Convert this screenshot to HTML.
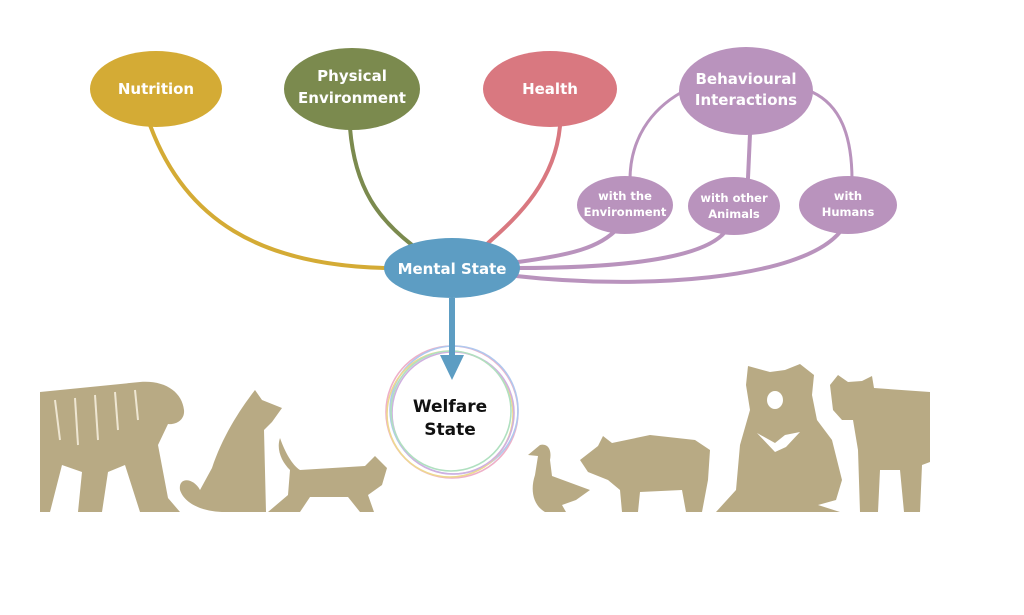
<!DOCTYPE html>
<html><head><meta charset="utf-8"><style>
html,body{margin:0;padding:0;background:#fff;}
svg{display:block;}
text{font-family:"DejaVu Sans","Liberation Sans",sans-serif;}
</style></head><body>
<svg width="1024" height="615" viewBox="0 0 1024 615">
<g fill="none" stroke-linecap="round">
<path d="M150 125 C185 220 260 265 385 268" stroke="#d4ab35" stroke-width="4"/>
<path d="M350 128 C355 190 380 220 412 245" stroke="#7b8a4e" stroke-width="4"/>
<path d="M560 126 C555 180 520 215 488 243" stroke="#d97880" stroke-width="4"/>
<path d="M630 180 C630 140 650 110 682 92" stroke="#b993bd" stroke-width="3"/>
<path d="M748 178 L750 134" stroke="#b993bd" stroke-width="4"/>
<path d="M852 180 C852 135 840 105 812 92" stroke="#b993bd" stroke-width="3"/>
<path d="M518 262 C570 255 600 248 618 228" stroke="#b993bd" stroke-width="4"/>
<path d="M518 268 C600 268 700 262 725 232" stroke="#b993bd" stroke-width="4"/>
<path d="M516 276 C640 290 800 280 840 232" stroke="#b993bd" stroke-width="4"/>
</g>
<ellipse cx="156" cy="89" rx="66" ry="38" fill="#d4ab35"/>
<ellipse cx="352" cy="89" rx="68" ry="41" fill="#7b8a4e"/>
<ellipse cx="550" cy="89" rx="67" ry="38" fill="#d97880"/>
<ellipse cx="746" cy="91" rx="67" ry="44" fill="#b993bd"/>
<ellipse cx="625" cy="205" rx="48" ry="29" fill="#b993bd"/>
<ellipse cx="734" cy="206" rx="46" ry="29" fill="#b993bd"/>
<ellipse cx="848" cy="205" rx="49" ry="29" fill="#b993bd"/>
<ellipse cx="452" cy="268" rx="68" ry="30" fill="#5d9dc3"/>
<g fill="#fff" font-size="15" font-weight="bold" text-anchor="middle">
<text x="156" y="94">Nutrition</text>
<text x="352" y="81">Physical</text>
<text x="352" y="103">Environment</text>
<text x="550" y="94">Health</text>
<text x="746" y="84">Behavioural</text>
<text x="746" y="105">Interactions</text>
<text x="452" y="274">Mental State</text>
</g>
<g fill="#fff" font-size="11.5" font-weight="bold" text-anchor="middle">
<text x="625" y="200">with the</text>
<text x="625" y="216">Environment</text>
<text x="734" y="202">with other</text>
<text x="734" y="218">Animals</text>
<text x="848" y="200">with</text>
<text x="848" y="216">Humans</text>
</g>
<g fill="none" stroke-width="1.6">
<circle cx="452" cy="412" r="66" stroke="#eeb0c8"/>
<circle cx="454" cy="410" r="64" stroke="#b0c8ee"/>
<circle cx="450" cy="414" r="63" stroke="#eed890"/>
<circle cx="453" cy="413" r="61" stroke="#d0b0e0"/>
<circle cx="451" cy="411" r="60" stroke="#b0e0c0"/>
</g>
<path d="M449 298 L455 298 L455 355 L464 355 L452 380 L440 355 L449 355 Z" fill="#5d9dc3"/>
<g fill="#111" font-size="17" font-weight="bold" text-anchor="middle">
<text x="450" y="412">Welfare</text>
<text x="450" y="435">State</text>
</g>
<g fill="#b8aa84">
<path d="M40 392 L140 382 C165 380 182 392 184 410 C185 420 176 425 168 424 L158 445 L168 498 L180 512 L140 512 L125 465 L108 472 L102 512 L78 512 L82 472 L62 465 L50 512 L40 512 Z"/>
<path d="M255 390 L262 400 L282 408 L272 422 L264 430 L266 512 L225 512 C205 512 185 505 180 490 C178 476 194 478 200 490 L212 468 C222 438 238 412 255 390 Z"/>
<path d="M280 438 C285 452 292 465 300 470 L365 466 L375 456 L387 468 L382 485 L368 495 L374 512 L360 512 L348 497 L310 497 L300 512 L268 512 L288 495 L290 470 C282 462 276 450 280 438 Z"/>
<path d="M540 445 C548 443 552 450 550 460 L552 476 L590 490 L576 500 L562 505 L566 512 L545 512 C533 505 530 490 535 475 L538 456 L528 455 Z"/>
<path d="M580 460 L598 446 L603 436 L612 443 L650 435 L695 440 L710 450 L708 480 L702 512 L686 512 L682 490 L640 492 L638 512 L622 512 L620 490 L608 480 L588 472 Z"/>
<path d="M748 366 L770 372 L785 370 L800 364 L814 375 L812 395 L817 420 L832 440 L842 480 L836 500 L818 505 L840 512 L716 512 L736 490 L740 445 L750 410 L746 385 Z"/>
<path d="M830 385 L838 375 L848 382 L862 381 L872 376 L874 388 L930 392 L930 462 L922 465 L920 512 L904 512 L900 470 L880 470 L878 512 L860 512 L858 450 L853 420 L842 420 L833 410 Z"/>
</g>
<g fill="#fff">
<path d="M757 433 L775 443 L785 435 L800 432 L786 447 L775 452 Z"/>
<ellipse cx="775" cy="400" rx="8" ry="9"/>
</g>
<g stroke="#eee6d2" stroke-width="2" fill="none">
<path d="M55 400 L60 440"/><path d="M75 398 L78 445"/><path d="M95 395 L98 440"/><path d="M115 392 L118 430"/><path d="M135 390 L138 420"/>
</g>
</svg>
</body></html>
